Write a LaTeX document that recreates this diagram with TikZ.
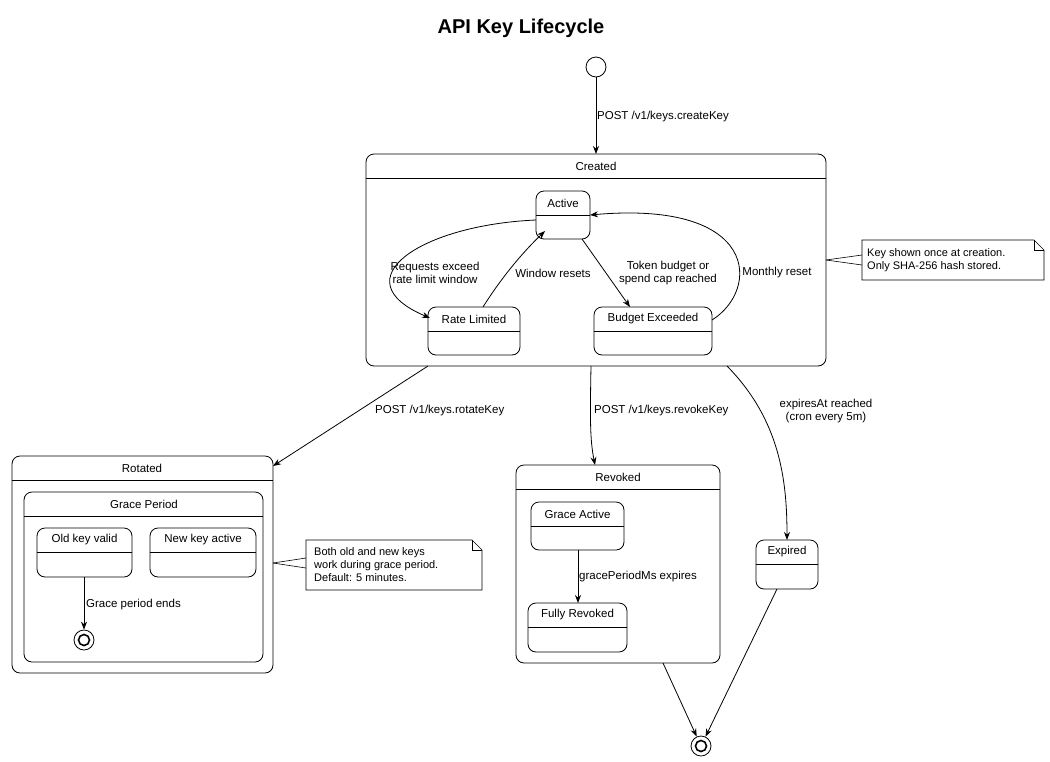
\documentclass[tikz,border=0pt]{standalone}
\usepackage{fontspec}
\setmainfont{Liberation Sans}
\usetikzlibrary{arrows.meta}
\begin{document}
\begin{tikzpicture}[x=1pt,y=-1pt,
  st/.style={draw,rounded corners=8pt,line width=0.8pt},
  lbl/.style={font=\fontsize{11.5}{13}\selectfont,inner sep=0pt},
  llbl/.style={lbl,anchor=west,align=left},
  clbl/.style={lbl,align=center},
  ar/.style={draw,line width=0.8pt,-{Stealth[length=8pt,width=6pt]}},
  nt/.style={font=\fontsize{11}{13}\selectfont,align=left,anchor=west,inner sep=0pt}]
\useasboundingbox (0,0) rectangle (1050,761);
\node[font=\bfseries\fontsize{20}{24}\selectfont] (title) at (521,28) {API Key Lifecycle};
% initial
\node[draw,circle,minimum size=20pt,inner sep=0pt,line width=0.8pt] (init) at (596,67) {};
% Created
\draw[st] (366,154) rectangle (826,366); \draw (366,178)--(826,178);
\node[clbl] (created) at (596,166) {Created};
\coordinate (cT) at (596,154);
\newcommand\stbox[6]{% x1 y1 x2 y2 name text
  \draw[st] (#1,#2) rectangle (#3,#4); \draw (#1,#2+24)--(#3,#2+24);
  \node[clbl] (#5) at ({(#1+#3)/2},#2+12) {#6};}
\stbox{536}{191}{590}{239}{active}{Active}
\stbox{428}{307}{520}{355}{rate}{Rate Limited}
\stbox{594}{307}{712}{355}{budget}{Budget Exceeded}
\draw[ar] (init) -- (cT);
\node[llbl] (l1) at (597,117) {POST /v1/keys.createKey};
\coordinate (a1) at (536,220); \coordinate (r1) at (430,318);
\draw[ar] (a1) .. controls (420,225) and (340,280) .. (r1);
\node[clbl] (l2) at (435,273) {Requests exceed\\rate limit window};
\coordinate (r2) at (483,307); \coordinate (a2) at (545,231);
\draw[ar] (r2) .. controls (500,280) and (520,255) .. (a2);
\node[clbl] (l3) at (553,273) {Window resets};
\coordinate (a3) at (582,239); \coordinate (b3) at (630,307);
\draw[ar] (a3) -- (b3);
\node[clbl] (l4) at (668,273) {Token budget or\\spend cap reached};
\coordinate (b4) at (712,320); \coordinate (a4) at (590,215);
\draw[ar] (b4) .. controls (760,290) and (760,200) .. (a4);
\node[clbl] (l5) at (777,273) {Monthly reset};
% note 1
\draw[line width=0.6pt] (862,240)--(1034,240)--(1044,250)--(1044,280)--(862,280)--cycle;
\draw[line width=0.6pt] (1034,240)--(1034,250)--(1044,250);
\draw[line width=0.6pt] (826,260)--(862,255); \draw[line width=0.6pt] (826,260)--(862,265);
\node[nt] (n1) at (867,260) {Key shown once at creation.\\Only SHA-256 hash stored.};
% Rotated
\draw[st] (12,456) rectangle (273,673); \draw (12,480)--(273,480);
\node[clbl] (rot) at (142,468) {Rotated};
\draw[st] (24,492) rectangle (263,662); \draw (24,516)--(263,516);
\node[clbl] (grace) at (144,504) {Grace Period};
\stbox{37}{528}{132}{577}{old}{Old key valid}
\stbox{150}{528}{256}{577}{new}{New key active}
\node[draw,circle,minimum size=20pt,inner sep=0pt,line width=0.8pt] (f1) at (84,640) {};
\node[draw,circle,minimum size=11pt,inner sep=0pt,line width=1.6pt] at (f1) {};
\coordinate (o1) at (84,577);
\draw[ar] (o1) -- (f1);
\node[llbl] (l6) at (86,605) {Grace period ends};
% note 2
\draw[line width=0.6pt] (306,540)--(472,540)--(482,550)--(482,590)--(306,590)--cycle;
\draw[line width=0.6pt] (472,540)--(472,550)--(482,550);
\draw[line width=0.6pt] (273,563)--(306,558); \draw[line width=0.6pt] (273,563)--(306,568);
\node[nt] (n2) at (314,565) {Both old and new keys\\work during grace period.\\Default: 5 minutes.};
% Created -> Rotated
\coordinate (c1) at (428,366); \coordinate (rt) at (273,466);
\draw[ar] (c1) -- (rt);
\node[llbl] (l7) at (375,411) {POST /v1/keys.rotateKey};
% Revoked
\draw[st] (516,465) rectangle (720,663); \draw (516,489)--(720,489);
\node[clbl] (rev) at (618,477) {Revoked};
\stbox{531}{502}{624}{550}{gact}{Grace Active}
\stbox{528}{603}{627}{652}{fully}{Fully Revoked}
\coordinate (c2) at (591,366); \coordinate (rv) at (595,465);
\draw[ar] (c2) .. controls (590,420) and (590,440) .. (rv);
\node[llbl] (l8) at (594,411) {POST /v1/keys.revokeKey};
\coordinate (g1) at (578,550); \coordinate (g2) at (578,603);
\draw[ar] (g1) -- (g2);
\node[llbl] (l9) at (579,577) {gracePeriodMs expires};
% Expired
\stbox{756}{540}{818}{589}{exp}{Expired}
\coordinate (c3) at (727,366); \coordinate (ex) at (787,540);
\draw[ar] (c3) .. controls (780,420) and (787,480) .. (ex);
\node[clbl] (l10) at (826,411) {expiresAt reached\\(cron every 5m)};
% final
\node[draw,circle,minimum size=20pt,inner sep=0pt,line width=0.8pt] (f2) at (701,746) {};
\node[draw,circle,minimum size=11pt,inner sep=0pt,line width=1.6pt] at (f2) {};
\coordinate (rb) at (663,663); \coordinate (eb) at (777,589);
\draw[ar] (rb) -- (f2);
\draw[ar] (eb) -- (f2);
\end{tikzpicture}
\end{document}
